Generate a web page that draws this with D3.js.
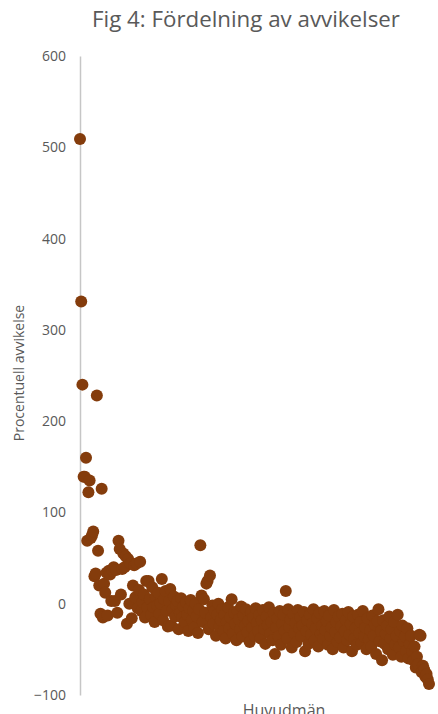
<!DOCTYPE html>
<html>
<head>
<meta charset="utf-8">
<script src="https://cdn.jsdelivr.net/npm/d3@7"></script>
<style>
  html, body { margin: 0; padding: 0; background: #fff; }
  svg { display: block; }
</style>
</head>
<body>
<div id="chart"></div>
<script>
// ---- data ----
const chartTitle = "Fig 4: Fördelning av avvikelser";
const yAxisTitle = "Procentuell avvikelse";
const xAxisTitle = "Huvudmän";
const yTicks = [-100, 0, 100, 200, 300, 400, 500, 600];

// percentage deviation per huvudman (index = position on x)
const deviations = [
  509, 331, 240, 139, 139, 160, 69, 122, 135, 72,
  75, 79, 30, 33, 228, 58, 20, -11, 126, -15,
  22, 12, 34, -13, 36, 32, 3, 36, 40, 3,
  37, -10, 69, 60, 10, 38, 55, 40, 52, -22,
  49, 0, 44, -16, 20, 42, 7, 44, -5, 15,
  46, -8, 2, 10, -15, 25, -4, 25, 5, -12,
  18, -4, -20, 8, -2, 12, -11, 0, 27, -18,
  5, 14, -8, -25, 3, 16, -24, -6, 8, -14,
  -2, 3, -28, -10, 6, -15, -3, -20, 2, -12,
  -30, -5, 4, -18, -8, -26, 0, -14, -32, -6,
  64, 9, -20, 5, -10, 22, 25, -28, 31, -15,
  -2, -22, -8, -35, -12, 0, -25, -18, -6, -30,
  -12, -38, -20, -4, -27, -15, 5, -33, -10, -22,
  -40, -8, -17, -28, -3, -36, -13, -24, -6, -31,
  -19, -42, -9, -26, -15, -35, -5, -21, -30, -12,
  -38, -18, -7, -28, -44, -14, -23, -4, -33, -20,
  -40, -10, -55, -26, -16, -36, -8, -45, -22, -12,
  -30, 14, -38, -6, -25, -17, -48, -11, -32, -21,
  -42, -7, -27, -15, -36, -24, -9, -52, -30, -18,
  -44, -12, -34, -22, -6, -40, -27, -16, -47, -10,
  -33, -24, -38, -8, -29, -19, -45, -13, -35, -26,
  -50, -7, -31, -20, -42, -14, -37, -25, -11, -48,
  -30, -18, -40, -9, -34, -22, -52, -14, -38, -27,
  -45, -12, -32, -20, -43, -8, -36, -26, -50, -16,
  -39, -29, -47, -13, -35, -23, -55, -19, -6, -41,
  -30, -62, -18, -44, -33, -24, -50, -14, -38, -28,
  -56, -20, -45, -35, -12, -48, -30, -58, -24, -41,
  -36, -52, -27, -60, -44, -35, -52, -62, -47, -70,
  -58, -66, -34, -35, -75, -68, -72, -80, -77, -83,
  -88
];

// ---- layout ----
const W = 438, H = 714;
const plotLeft = 80, plotRight = 429, plotTop = 56, plotBottom = 695;
const textColor = "#595959";
const dotColor = "#843C0C";
const fontFam = "'Open Sans', 'Noto Sans', sans-serif";

const svg = d3.select("#chart").append("svg")
  .attr("width", W).attr("height", H);

const x = d3.scaleLinear().domain([0, deviations.length - 1]).range([plotLeft, plotRight]);
const y = d3.scaleLinear().domain([-100, 600]).range([plotBottom, plotTop]);

// y axis
const yAxis = d3.axisLeft(y).tickValues(yTicks).tickSize(0).tickPadding(14)
  .tickFormat(d3.format("d"));
const gy = svg.append("g").attr("transform", `translate(${plotLeft},0)`).call(yAxis);
gy.select(".domain").attr("stroke", "#c6c6c6").attr("stroke-width", 1.5);
gy.selectAll(".tick text")
  .attr("fill", textColor)
  .style("font-family", fontFam)
  .style("font-size", "14px");

// dots
svg.append("g").selectAll("circle")
  .data(deviations)
  .join("circle")
  .attr("cx", (d, i) => x(i))
  .attr("cy", d => y(d))
  .attr("r", 6)
  .attr("fill", dotColor);

// title, fitted to the reference width
const title = svg.append("text")
  .attr("x", 246).attr("y", 27)
  .attr("text-anchor", "middle")
  .attr("fill", textColor)
  .style("font-family", fontFam)
  .style("font-size", "21px")
  .text(chartTitle);
const tw = title.node().getComputedTextLength();
title.style("font-size", (21 * 308 / tw).toFixed(2) + "px");

// y axis title
svg.append("text")
  .attr("transform", `translate(24,373) rotate(-90)`)
  .attr("text-anchor", "middle")
  .attr("fill", textColor)
  .style("font-family", fontFam)
  .style("font-size", "14px")
  .text(yAxisTitle);

// x axis title
svg.append("text")
  .attr("x", 284).attr("y", 716)
  .attr("text-anchor", "middle")
  .attr("fill", textColor)
  .style("font-family", fontFam)
  .style("font-size", "16px")
  .text(xAxisTitle);
</script>
</body>
</html>
